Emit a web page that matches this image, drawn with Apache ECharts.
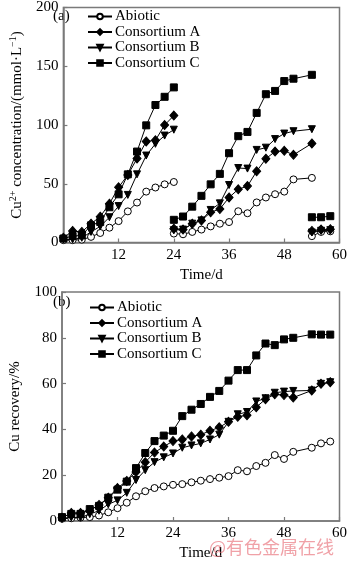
<!DOCTYPE html>
<html><head><meta charset="utf-8">
<script src="https://cdn.jsdelivr.net/npm/echarts@6/dist/echarts.min.js"></script>
<style>html,body{margin:0;padding:0;background:#fff}#c{width:350px;height:562px}</style>
</head><body><div id="c"></div>
<script>
const seriesNames = ['Abiotic', 'Consortium A', 'Consortium B', 'Consortium C'];

// (a) Cu2+ concentration, three leaching stages
const daysSeg1 = [0, 2, 4, 6, 8, 10, 12, 14, 16, 18, 20, 22, 24];
const daysSeg2 = [24, 26, 28, 30, 32, 34, 36, 38, 40, 42, 44, 46, 48, 50, 54];
const daysSeg3 = [54, 56, 58];

const abioticConc1 = [2, 2, 2.4, 4.8, 8.1, 12.6, 18.2, 26.5, 34, 43.3, 46.8, 49.5, 51.5];
const consAConc1   = [4, 9.8, 9, 16, 22, 33, 47, 57.5, 71.5, 86, 87, 100, 108];
const consBConc1   = [2.5, 2.6, 4, 9, 13.7, 21.5, 31, 40.5, 58, 74, 84, 91, 96];
const consCConc1   = [3.4, 5.5, 6, 14.6, 17.4, 30, 41, 58, 77.4, 99.7, 117, 124, 132];

const abioticConc2 = [7.6, 7, 9, 11, 13.7, 16, 17.4, 26.6, 24.9, 34.1, 38.3, 41.1, 43.3, 53.7, 55];
const consAConc2   = [11.8, 11, 16, 18.8, 25.7, 28.5, 38.3, 45.3, 48, 60.6, 71.3, 77.4, 78, 74.6, 84.3];
const consBConc2   = [10.5, 11, 16, 18.8, 27.7, 33.3, 48.9, 63.4, 62.9, 78.8, 80.7, 88, 92.7, 94.7, 96.4];
const consCConc2   = [19.3, 22.1, 30.5, 39.7, 49.5, 58.4, 76, 90.5, 94.1, 110.3, 126.2, 129, 137.4, 139.4, 142.7];

const abioticConc3 = [5.4, 9, 9.5];
const consAConc3   = [9.8, 11, 11.3];
const consBConc3   = [8.5, 10, 10.5];
const consCConc3   = [21.5, 21.5, 22.4];

// (b) Cu recovery
const daysRecovery = [0, 2, 4, 6, 8, 10, 12, 14, 16, 18, 20, 22, 24, 26, 28, 30, 32, 34, 36, 38, 40, 42, 44, 46, 48, 50, 54, 56, 58];
const abioticRec = [1, 1.2, 1.5, 1.7, 2.4, 3.8, 5.6, 8, 10.8, 13, 14.4, 15.1, 15.8, 16.1, 16.9, 17.6, 18.3, 18.9, 19.6, 22.2, 21.7, 24, 25.4, 28.8, 27.1, 30.2, 32, 33.9, 34.7];
const consARec   = [1.4, 3.5, 3.5, 4.5, 7, 10.2, 14.4, 17.5, 21.4, 25.7, 29.9, 32.5, 34.9, 35.6, 36.9, 37.7, 39.4, 40.9, 43.3, 45.5, 46.2, 49.7, 53.2, 55.3, 55, 53.9, 57, 59.9, 60.6];
const consBRec   = [1.2, 1.5, 1.5, 3, 4.5, 7.3, 9, 12.3, 17.9, 22.2, 25.7, 27.8, 29.5, 32, 33, 33.9, 35.6, 37.7, 43.3, 46.6, 47.6, 52.2, 53.6, 56, 56.5, 56.8, 57, 59.9, 60.6];
const consCRec   = [1.7, 3.1, 3.1, 5.2, 6.6, 10.2, 13.7, 17.2, 23.1, 29.7, 34.9, 37.3, 39.4, 45.8, 48.6, 51.1, 54.2, 56.8, 61.3, 65.9, 65.9, 72.3, 77.5, 76.8, 79.3, 80, 81.5, 81.4, 81.4];

const xTickStep = 12;
const concTickStep = 50;
const recTickStep = 20;

function zip(xs, ys) { return xs.map((x, i) => [x, ys[i]]); }
function joinSegs(segs) {
  const out = [];
  segs.forEach((s, i) => { if (i > 0) out.push(['-', '-']); zip(s[0], s[1]).forEach(p => out.push(p)); });
  return out;
}

const concData = [
  joinSegs([[daysSeg1, abioticConc1], [daysSeg2, abioticConc2], [daysSeg3, abioticConc3]]),
  joinSegs([[daysSeg1, consAConc1], [daysSeg2, consAConc2], [daysSeg3, consAConc3]]),
  joinSegs([[daysSeg1, consBConc1], [daysSeg2, consBConc2], [daysSeg3, consBConc3]]),
  joinSegs([[daysSeg1, consCConc1], [daysSeg2, consCConc2], [daysSeg3, consCConc3]])
];
const recData = [
  zip(daysRecovery, abioticRec), zip(daysRecovery, consARec),
  zip(daysRecovery, consBRec), zip(daysRecovery, consCRec)
];

const FONT = 'Liberation Serif';
const FS = 15;
const GRAY = '#7a7a7a';
const symbols = [
  { symbol: 'circle', symbolSize: 7, symbolRotate: 0, fill: '#fff' },
  { symbol: 'diamond', symbolSize: [8, 9], symbolRotate: 0, fill: '#000' },
  { symbol: 'triangle', symbolSize: 7, symbolRotate: 180, fill: '#000' },
  { symbol: 'rect', symbolSize: 7, symbolRotate: 0, fill: '#000' }
];

function mkSeries(dataArr, gi) {
  return dataArr.map((d, i) => ({
    name: seriesNames[i], type: 'line', xAxisIndex: gi, yAxisIndex: gi,
    data: d, connectNulls: false, showAllSymbol: true,
    symbol: symbols[i].symbol, symbolSize: symbols[i].symbolSize, symbolRotate: symbols[i].symbolRotate,
    lineStyle: { color: '#000', width: 1 },
    itemStyle: { color: symbols[i].fill, borderColor: '#000', borderWidth: 1 },
    emphasis: { disabled: true }, animation: false, z: 2 + i
  }));
}

const axisCommon = {
  axisLine: { show: true, lineStyle: { color: GRAY, width: 1.5 } },
  axisTick: { show: true, inside: true, length: 4, lineStyle: { color: GRAY, width: 1.2 } },
  splitLine: { show: false },
  axisLabel: { color: '#000', fontFamily: FONT, fontSize: FS }
};

function xAxisDef(gi) {
  return Object.assign({}, axisCommon, {
    type: 'value', gridIndex: gi, min: 0, max: 60, interval: xTickStep,
    name: 'Time/d', nameLocation: 'middle', nameGap: 25,
    nameTextStyle: { color: '#000', fontFamily: FONT, fontSize: FS },
    axisLabel: Object.assign({}, axisCommon.axisLabel, { showMinLabel: false, margin: 5 })
  });
}

const legendCommon = {
  orient: 'vertical', itemWidth: 24, itemHeight: 7, itemGap: 0.5, padding: 0,
  textStyle: { color: '#000', fontFamily: FONT, fontSize: FS, padding: [0, 0, 0, -2] },
  selectedMode: false, data: seriesNames
};

const chart = echarts.init(document.getElementById('c'), null, { renderer: 'canvas' });
chart.setOption({
  animation: false,
  backgroundColor: '#fff',
  grid: [
    { left: 48, right: 4.5, top: 4, bottom: 319.5, show: true, borderColor: GRAY, borderWidth: 1.5, backgroundColor: 'transparent' },
    { left: 48, right: 4.5, top: 292, bottom: 35, show: true, borderColor: GRAY, borderWidth: 1.5, backgroundColor: 'transparent' }
  ],
  xAxis: [xAxisDef(0), xAxisDef(1)],
  yAxis: [
    Object.assign({}, axisCommon, {
      type: 'value', gridIndex: 0, min: 0, max: 200, interval: concTickStep,
      name: '{n|Cu}{s|2+}{n| concentration/(mmol·L}{s|−1}{n|)}',
      nameLocation: 'middle', nameGap: 37,
      nameTextStyle: { color: '#000', fontFamily: FONT, fontSize: FS,
        rich: { n: { fontFamily: FONT, fontSize: FS, color: '#000', lineHeight: 17, verticalAlign: 'bottom' },
                s: { fontFamily: FONT, fontSize: 10, color: '#000', lineHeight: 17, verticalAlign: 'top' } } },
      axisLabel: Object.assign({}, axisCommon.axisLabel, { margin: 5 })
    }),
    Object.assign({}, axisCommon, {
      type: 'value', gridIndex: 1, min: 0, max: 100, interval: recTickStep,
      name: 'Cu recovery/%', nameLocation: 'middle', nameGap: 39,
      nameTextStyle: { color: '#000', fontFamily: FONT, fontSize: FS },
      axisLabel: Object.assign({}, axisCommon.axisLabel, { margin: 5 })
    })
  ],
  legend: [
    Object.assign({}, legendCommon, { left: 87, top: 9 }),
    Object.assign({}, legendCommon, { left: 89, top: 300 })
  ],
  graphic: [
    { type: 'text', left: 53, top: 9, style: { text: '(a)', fontFamily: FONT, fontSize: FS, fill: '#000' } },
    { type: 'text', left: 53, top: 295, style: { text: '(b)', fontFamily: FONT, fontSize: FS, fill: '#000' } },
    { type: 'text', left: 209, top: 538, z: 100, style: { text: '@有色金属在线', fontFamily: 'Noto Sans CJK SC', fontSize: 18, fill: 'rgba(232,110,120,0.65)' } }
  ],
  series: mkSeries(concData, 0).concat(mkSeries(recData, 1))
});
</script>
</body></html>
